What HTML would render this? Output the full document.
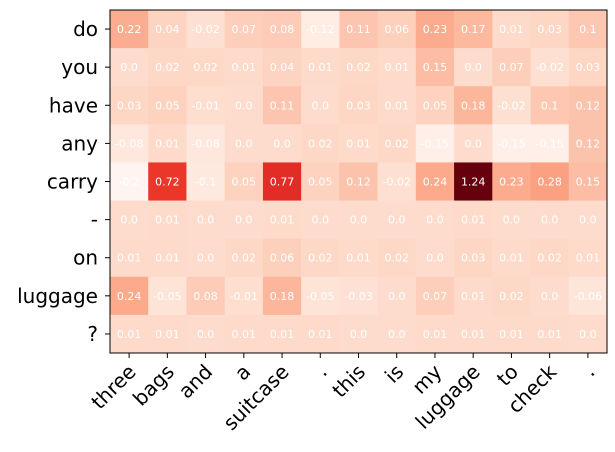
<!DOCTYPE html>
<html><head><meta charset="utf-8"><style>
html,body{margin:0;padding:0;background:#fff;}
svg{display:block;font-family:"DejaVu Sans","Liberation Sans",sans-serif;}
</style></head><body>
<svg id="chart" width="615" height="452" viewBox="0 0 615 452" xmlns="http://www.w3.org/2000/svg">
<g id="cells"></g>
<rect x="110" y="10" width="497" height="343" fill="none" stroke="#000" stroke-width="1"/>
<g id="ylab"></g>
<g id="xlab"></g>
</svg>
<script>
const cols = ["three","bags","and","a","suitcase",".","this","is","my","luggage","to","check","."];
const rows = ["do","you","have","any","carry","-","on","luggage","?"];
const rowDo = [0.22,0.04,-0.02,0.07,0.08,-0.12,0.11,0.06,0.23,0.17,0.01,0.03,0.1];
const rowYou = [0.0,0.02,0.02,0.01,0.04,0.01,0.02,0.01,0.15,0.0,0.07,-0.02,0.03];
const rowHave = [0.03,0.05,-0.01,0.0,0.11,0.0,0.03,0.01,0.05,0.18,-0.02,0.1,0.12];
const rowAny = [-0.08,0.01,-0.08,0.0,0.0,0.02,0.01,0.02,-0.15,0.0,-0.15,-0.15,0.12];
const rowCarry = [-0.2,0.72,-0.1,0.05,0.77,0.05,0.12,-0.02,0.24,1.24,0.23,0.28,0.15];
const rowDash = [0.0,0.01,0.0,0.0,0.01,0.0,0.0,0.0,0.0,0.01,0.0,0.0,0.0];
const rowOn = [0.01,0.01,0.0,0.02,0.06,0.02,0.01,0.02,0.0,0.03,0.01,0.02,0.01];
const rowLuggage = [0.24,-0.05,0.08,-0.01,0.18,-0.05,-0.03,0.0,0.07,0.01,0.02,0.0,-0.06];
const rowQ = [0.01,0.01,0.0,0.01,0.01,0.01,0.0,0.0,0.01,0.01,0.01,0.01,0.0];
const values = [rowDo,rowYou,rowHave,rowAny,rowCarry,rowDash,rowOn,rowLuggage,rowQ];

const NS="http://www.w3.org/2000/svg";
const X0=110,Y0=10,W=497,H=343;
const cw=W/cols.length, ch=H/rows.length;
const xPos=i=>X0+i*cw, yPos=j=>Y0+j*ch;
const vmin=-0.2, vmax=1.24;
const stops=["#fff5f0","#fee0d2","#fcbba1","#fc9272","#fb6a4a","#ef3b2c","#cb181d","#a50f15","#67000d"];
function hex(h){return [1,3,5].map(k=>parseInt(h.substr(k,2),16));}
function color(v){
  let t=(v-vmin)/(vmax-vmin); t=Math.max(0,Math.min(1,t));
  const p=t*(stops.length-1), i=Math.min(stops.length-2,Math.floor(p)), f=p-i;
  const a=hex(stops[i]), b=hex(stops[i+1]);
  return "rgb("+a.map((c,k)=>Math.round(c+(b[k]-c)*f)).join(",")+")";
}
const cells=document.getElementById("cells");
values.forEach((row,j)=>{
  row.forEach((v,i)=>{
    const r=document.createElementNS(NS,"rect");
    r.setAttribute("x",xPos(i));r.setAttribute("y",yPos(j));
    r.setAttribute("width",cw+0.5);r.setAttribute("height",ch+0.5);
    r.setAttribute("fill",color(v));
    
    
    cells.appendChild(r);
    const t=document.createElementNS(NS,"text");
    t.setAttribute("x",xPos(i)+cw/2);t.setAttribute("y",yPos(j)+ch/2+4);
    t.setAttribute("text-anchor","middle");t.setAttribute("font-size","11");
    t.setAttribute("fill","#fff");
    t.textContent=(Math.round(v*100)/100).toString().replace(/^(-?\d+)$/,"$1.0");
    
    
    cells.appendChild(t);
  });
});
const yl=document.getElementById("ylab");
rows.forEach((r,j)=>{
  const y=yPos(j)+ch/2;
  const tk=document.createElementNS(NS,"line");
  tk.setAttribute("x1",X0-5);tk.setAttribute("x2",X0);tk.setAttribute("y1",y);tk.setAttribute("y2",y);
  tk.setAttribute("stroke","#000");
  
  
  yl.appendChild(tk);
  const t=document.createElementNS(NS,"text");
  t.setAttribute("x",X0-12);t.setAttribute("y",y+7);
  t.setAttribute("text-anchor","end");t.setAttribute("font-size","20");
  t.textContent=r;
  
  
  yl.appendChild(t);
});
const xl=document.getElementById("xlab");
cols.forEach((c,i)=>{
  const x=xPos(i)+cw/2;
  const tk=document.createElementNS(NS,"line");
  tk.setAttribute("x1",x);tk.setAttribute("x2",x);tk.setAttribute("y1",Y0+H);tk.setAttribute("y2",Y0+H+5);
  tk.setAttribute("stroke","#000");
  
  
  xl.appendChild(tk);
  const t=document.createElementNS(NS,"text");
  const ax=x+8, ay=Y0+H+20;
  t.setAttribute("x",ax);t.setAttribute("y",ay);
  t.setAttribute("text-anchor","end");t.setAttribute("font-size","20");
  t.setAttribute("transform","rotate(-45 "+ax+" "+ay+")");
  t.textContent=c;
  
  
  xl.appendChild(t);
});
</script>
</body></html>
